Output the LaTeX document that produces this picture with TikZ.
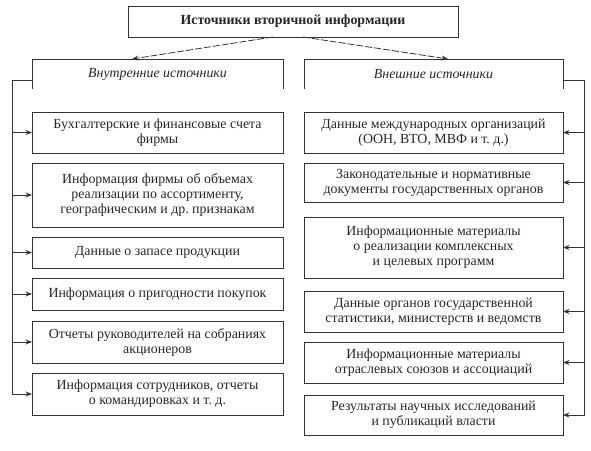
\documentclass[tikz,border=0pt]{standalone}
\usepackage{fontspec}
\setmainfont{Liberation Serif}
\usetikzlibrary{arrows.meta}
\frenchspacing
\begin{document}
\begin{tikzpicture}[x=1pt,y=-1pt,
  every node/.style={inner sep=0pt, outer sep=0pt, font=\fontsize{13.9}{15}\selectfont, text=black!85},
  box/.style={draw=black!80, line width=0.8pt, align=center},
  lbox/.style={box, minimum width=251pt},
  rbox/.style={box, minimum width=259pt},
  con/.style={draw=black!80, line width=0.8pt},
  arr/.style={con, -{Stealth[length=6.5pt,width=5pt]}},
  darr/.style={arr, dash pattern=on 7pt off 2pt}]
\useasboundingbox (0,0) rectangle (591,450);
% title and headers
\node[box, minimum width=330pt, minimum height=31pt, font=\fontsize{13.9}{15}\selectfont\bfseries] (T) at (293,21.5) {Источники вторичной информации};
\node[minimum width=251pt, minimum height=30pt, font=\fontsize{13.9}{15}\selectfont\itshape, anchor=north] (LH) at (157.5,59) {\raisebox{1pt}{Внутренние источники}};
\node[minimum width=259pt, minimum height=30pt, font=\fontsize{13.9}{15}\selectfont\itshape, anchor=north] (RH) at (433.5,59) {\raisebox{1pt}{Внешние источники}};
\draw[con] (LH.south west) -- (LH.north west) -- (LH.north east) -- (LH.south east);
\draw[con] (RH.south west) -- (RH.north west) -- (RH.north east) -- (RH.south east);
% left boxes
\node[lbox, minimum height=41pt] (L1) at (157.5,132.5) {Бухгалтерские и финансовые счета\\фирмы};
\node[lbox, minimum height=64pt] (L2) at (157.5,195) {Информация фирмы об объемах\\реализации по ассортименту,\\географическим и др. признакам};
\node[lbox, minimum height=31pt] (L3) at (157.5,252.5) {Данные о запасе продукции};
\node[lbox, minimum height=32pt] (L4) at (157.5,294) {Информация о пригодности покупок};
\node[lbox, minimum height=42pt] (L5) at (157.5,342) {Отчеты руководителей на собраниях\\акционеров};
\node[lbox, minimum height=42pt] (L6) at (157.5,394) {Информация сотрудников, отчеты\\о командировках и т. д.};
% right boxes
\node[rbox, minimum height=41pt] (R1) at (433.5,132.5) {Данные международных организаций\\(ООН, ВТО, МВФ и т. д.)};
\node[rbox, minimum height=39pt] (R2) at (433.5,182.5) {Законодательные и нормативные\\документы государственных органов};
\node[rbox, minimum height=61pt] (R3) at (433.5,247.5) {Информационные материалы\\о реализации комплексных\\и целевых программ};
\node[rbox, minimum height=41pt] (R4) at (433.5,311.5) {Данные органов государственной\\статистики, министерств и ведомств};
\node[rbox, minimum height=41pt] (R5) at (433.5,362.5) {Информационные материалы\\отраслевых союзов и ассоциаций};
\node[rbox, minimum height=40pt] (R6) at (433.5,415) {Результаты научных исследований\\и публикаций власти};
% arrows from title
\draw[darr] ([xshift=-20pt]T.south) -- ([xshift=-25.5pt]LH.north);
\draw[darr] ([xshift=10pt]T.south) -- ([xshift=14.5pt]RH.north);
% brackets
\coordinate (lb) at (12,80);
\coordinate (rb) at (584,80);
\draw[arr] (lb -| LH.west) -- (lb) -- (lb |- L6.west) -- (L6.west);
\foreach \n in {L1,L2,L3,L4,L5} \draw[arr] (lb |- \n.west) -- (\n.west);
\draw[arr] (rb -| RH.east) -- (rb) -- (rb |- R6.east) -- (R6.east);
\foreach \n in {R1,R2,R3,R4,R5} \draw[arr] (rb |- \n.east) -- (\n.east);
\end{tikzpicture}
\end{document}
